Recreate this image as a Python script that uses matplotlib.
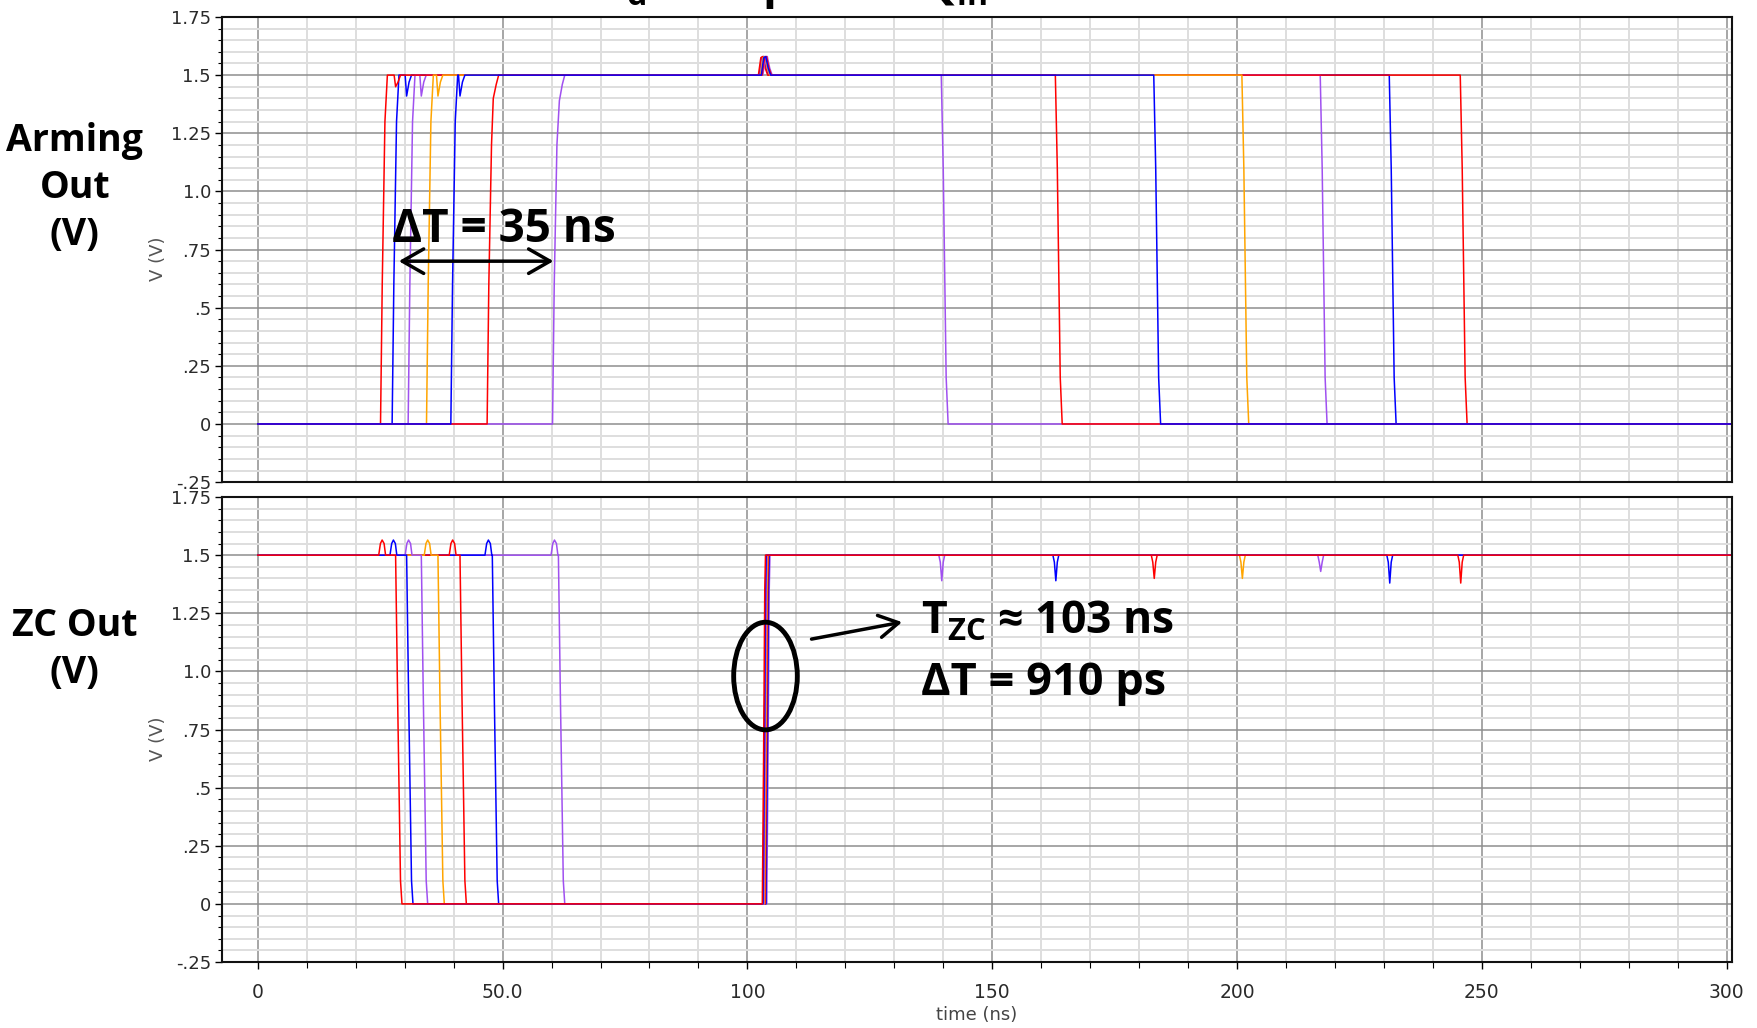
import numpy as np
import matplotlib
matplotlib.use("Agg")
import matplotlib.pyplot as plt
from matplotlib.patches import Ellipse
from matplotlib.ticker import MultipleLocator, FixedLocator, FixedFormatter

# ---- values (ns / V) ----
arm_rise = [25.07, 27.44, 30.71, 34.46, 39.43, 46.84, 60.2]
arm_fall = [245.6, 231.1, 217.0, 201.0, 183.0, 162.9, 139.6]
arm_glitch_v = [1.45, 1.41, 1.41, 1.41, 1.41, 1.40, 1.39]
arm_colors = ["red", "blue", "#a050f0", "orange", "blue", "red", "#a050f0"]
arm_order = [1, 2, 0, 3, 6, 5, 4]
arm_bump_v = 1.58

zc_bump = [25.5, 27.8, 30.9, 34.8, 39.9, 47.2, 60.7]
zc_fall = [28.15, 30.4, 33.4, 36.8, 41.3, 47.9, 61.4]
zc_rise = [103.05, 103.2, 103.35, 103.5, 103.65, 103.8, 103.96]
zc_dip_v = [1.38, 1.38, 1.43, 1.40, 1.40, 1.39, 1.39]
zc_bump_v = 1.565
zc_colors = ["red", "blue", "#a050f0", "orange", "red", "blue", "#a050f0"]
zc_order = [6, 5, 4, 3, 2, 1, 0]

yticks = [-0.25, 0, 0.25, 0.5, 0.75, 1.0, 1.25, 1.5, 1.75]
ytick_labels = ["-.25", "0", ".25", ".5", ".75", "1.0", "1.25", "1.5", "1.75"]
xticks = [0, 50, 100, 150, 200, 250, 300]
xtick_labels = ["0", "50.0", "100", "150", "200", "250", "300"]

T_END = 302.0

BIG = ["Open Sans", "DejaVu Sans"]
plt.rcParams["mathtext.fontset"] = "custom"
plt.rcParams["mathtext.bf"] = "Open Sans:bold"
plt.rcParams["mathtext.rm"] = "Open Sans"


def arm_wave(i):
    tr, tf, tg, gv = arm_rise[i], arm_fall[i], zc_fall[i], arm_glitch_v[i]
    tz = zc_rise[i]
    if tg - 0.3 > tr + 1.4:
        t = [0.0, tr, tr + 0.35, tr + 0.9, tr + 1.4, tg - 0.3, tg, tg + 0.5, tg + 1.0]
        v = [0.0, 0.0, 0.6, 1.3, 1.5, 1.5, gv, 1.47, 1.5]
    else:
        t = [0.0, tr, tr + 0.35, tr + 0.9, tg + 0.2, tg + 0.8, tg + 1.3]
        v = [0.0, 0.0, 0.6, 1.2, gv, 1.46, 1.5]
    t += [tz - 0.8, tz - 0.3, tz + 0.1, tz + 0.6, tz + 1.1]
    v += [1.5, 1.575, arm_bump_v, 1.53, 1.5]
    t += [tf, tf + 0.4, tf + 1.0, tf + 1.4, T_END]
    v += [1.5, 1.1, 0.2, 0.0, 0.0]
    return t, v


def zc_wave(i):
    tb, tf, tr, td, dv = zc_bump[i], zc_fall[i], zc_rise[i], arm_fall[i], zc_dip_v[i]
    t = [0.0, tb - 0.8, tb - 0.45, tb - 0.1, tb + 0.3, tb + 0.6,
         tf, tf + 0.4, tf + 1.0, tf + 1.3,
         tr, tr + 0.25, tr + 0.5, tr + 0.65,
         td - 0.5, td - 0.2, td + 0.1, td + 0.4, td + 0.7, T_END]
    v = [1.5, 1.5, 1.55, zc_bump_v, 1.55, 1.5,
         1.5, 0.9, 0.1, 0.0,
         0.0, 0.6, 1.35, 1.5,
         1.5, 1.47, dv, 1.47, 1.5, 1.5]
    return t, v


fig = plt.figure(figsize=(17.58, 10.28), dpi=100)
ax1 = fig.add_axes([0.1263, 0.531, 0.8589, 0.4525])
ax2 = fig.add_axes([0.1263, 0.0642, 0.8589, 0.4523])

for ax in (ax1, ax2):
    ax.set_xlim(-7.3, 301.1)
    ax.set_ylim(-0.25, 1.75)
    ax.yaxis.set_major_locator(FixedLocator(yticks))
    ax.yaxis.set_major_formatter(FixedFormatter(ytick_labels))
    ax.yaxis.set_minor_locator(MultipleLocator(0.05))
    ax.xaxis.set_major_locator(FixedLocator(xticks))
    ax.xaxis.set_minor_locator(MultipleLocator(10))
    ax.grid(which="major", color="#8e8e8e", lw=1.1)
    ax.grid(which="minor", color="#dedede", lw=1.4)
    ax.set_axisbelow(True)
    for s in ax.spines.values():
        s.set_linewidth(1.5)
        s.set_color("#111111")
    ax.tick_params(axis="y", which="major", direction="out", length=5, width=1,
                   labelsize=13, labelcolor="#2a2a2a", pad=3)
    ax.tick_params(axis="y", which="minor", direction="out", length=3, width=0.8)
    ax.set_ylabel("V (V)", fontsize=13, color="#555555")
    ax.yaxis.set_label_coords(-0.0365, 0.48)

ax1.tick_params(axis="x", which="both", length=0, labelbottom=False)
ax2.xaxis.set_major_formatter(FixedFormatter(xtick_labels))
ax2.tick_params(axis="x", which="major", direction="out", length=5, width=1,
                labelsize=13.5, labelcolor="#2a2a2a", pad=10)
ax2.tick_params(axis="x", which="minor", direction="out", length=4, width=0.8)
ax2.set_xlabel("time (ns)", fontsize=13, color="#444444", labelpad=3)

for i in arm_order:
    t, v = arm_wave(i)
    ax1.plot(t, v, color=arm_colors[i], lw=1.1)

for i in zc_order:
    t, v = zc_wave(i)
    ax2.plot(t, v, color=zc_colors[i], lw=1.1)

# annotations, top panel
ax1.text(27.4, 0.835, "\u0394T = 35 ns", fontsize=33, fontweight="bold",
         family=BIG, va="center", ha="left")
ax1.annotate("", xy=(60.4, 0.70), xytext=(28.8, 0.70),
             arrowprops=dict(arrowstyle="<->,head_length=0.7,head_width=0.4",
                             lw=2.5, color="black", mutation_scale=22,
                             shrinkA=0, shrinkB=0))

# annotations, bottom panel
ax2.add_patch(Ellipse((103.7, 0.98), width=13, height=0.463, fill=False,
                      lw=3.5, ec="black", zorder=5))
ax2.annotate("", xy=(131.6, 1.212), xytext=(113.1, 1.139),
             arrowprops=dict(arrowstyle="->,head_length=0.7,head_width=0.4",
                             lw=2.5, color="black", mutation_scale=20,
                             shrinkA=0, shrinkB=0))
ax2.text(135.5, 1.212, "T$_{\\mathbf{ZC}}$ \u2248 103 ns",
         fontsize=32, fontweight="bold", family=BIG, va="center", ha="left")
ax2.text(135.5, 0.946, "\u0394T = 910 ps", fontsize=32.5, fontweight="bold",
         family=BIG, va="center", ha="left")

# side labels
fig.text(0.0425, 0.817, "Arming\nOut\n(V)", fontsize=27, fontweight="bold",
         family=BIG, ha="center", va="center", linespacing=1.3)
fig.text(0.0425, 0.3685, "ZC Out\n(V)", fontsize=27, fontweight="bold",
         family=BIG, ha="center", va="center", linespacing=1.3)

# title, cut off at the top edge of the picture
fig.text(597 / 1758, 1.002, "C$_{\\mathbf{d}}$ = 30 pF", fontsize=33,
         fontweight="bold", family=BIG, ha="left", va="baseline")
fig.text(920 / 1758, 1.002, "Q$_{\\mathbf{in}}$ = 2 \u2013 200 fC",
         fontsize=33, fontweight="bold", family=BIG, ha="left", va="baseline")

fig.savefig("out.png", dpi=100)
